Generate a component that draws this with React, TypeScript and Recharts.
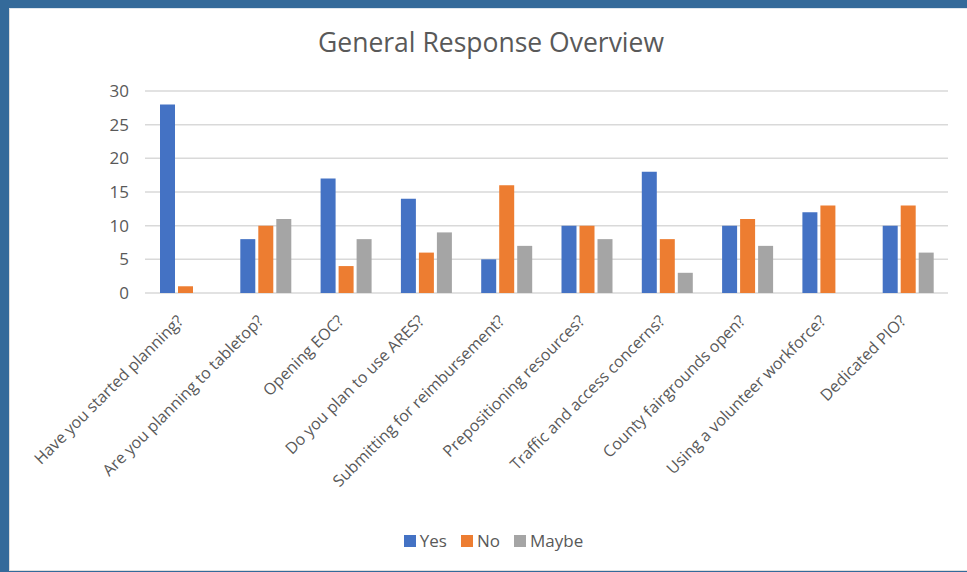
import React from 'react';
import { BarChart, Bar, XAxis, YAxis, CartesianGrid, Legend } from 'recharts';

const categories = [
  'Have you started planning?',
  'Are you planning to tabletop?',
  'Opening EOC?',
  'Do you plan to use ARES?',
  'Submitting for reimbursement?',
  'Prepositioning resources?',
  'Traffic and access concerns?',
  'County fairgrounds open?',
  'Using a volunteer workforce?',
  'Dedicated PIO?',
];
const yesValues = [28, 8, 17, 14, 5, 10, 18, 10, 12, 10];
const noValues = [1, 10, 4, 6, 16, 10, 8, 11, 13, 13];
const maybeValues = [0, 11, 8, 9, 7, 8, 3, 7, 0, 6];
const yTicks = [0, 5, 10, 15, 20, 25, 30];
const seriesNames = ['Yes', 'No', 'Maybe'];
const seriesColors = ['#4472C4', '#ED7D31', '#A5A5A5'];

const data = categories.map((name, i) => ({
  name,
  Yes: yesValues[i],
  No: noValues[i],
  Maybe: maybeValues[i],
}));

const FONT = '"Open Sans", "Liberation Sans", sans-serif';
const TEXT = '#595959';

const XTick = (props: any) => {
  const { x, y, payload } = props;
  return (
    <g transform={`translate(${x - 1},${y + 29})`}>
      <text transform="rotate(-45)" textAnchor="end" fill={TEXT} fontSize={16} fontFamily={FONT}>
        {payload.value}
      </text>
    </g>
  );
};

const LegendContent = () => (
  <div
    style={{
      display: 'flex',
      justifyContent: 'center',
      alignItems: 'center',
      fontFamily: FONT,
      fontSize: 17,
      color: TEXT,
      lineHeight: '23px',
    }}
  >
    {seriesNames.map((n, i) => (
      <div key={n} style={{ display: 'flex', alignItems: 'center', marginRight: i < 2 ? 14 : 0 }}>
        <span style={{ display: 'inline-block', width: 12, height: 12, background: seriesColors[i], marginRight: 4 }} />
        <span>{n}</span>
      </div>
    ))}
  </div>
);

export default function App() {
  return (
    <div style={{ position: 'absolute', left: 0, top: 0, width: 967, height: 572, background: '#346A9A', overflow: 'hidden' }}>
      <div
        style={{
          position: 'absolute',
          left: 9,
          top: 8,
          width: 958,
          height: 563,
          background: '#FFFFFF',
          borderTop: '1px solid #DDE6EE',
          borderLeft: '1px solid #DDDDDD',
          borderBottom: '1px solid #DDDDDD',
          boxSizing: 'border-box',
        }}
      />
      <div
        style={{
          position: 'absolute',
          left: 0,
          top: 25,
          width: 982,
          textAlign: 'center',
          fontFamily: FONT,
          fontSize: 26.5,
          lineHeight: '34px',
          color: TEXT,
        }}
      >
        General Response Overview
      </div>
      <div style={{ position: 'absolute', left: 0, top: 0 }}>
        <BarChart
          width={967}
          height={572}
          data={data}
          margin={{ top: 91, right: 19, left: 0, bottom: 79 }}
          barSize={15}
          barGap={3}
        >
          <CartesianGrid vertical={false} stroke="#D9D9D9" strokeWidth={1.5} />
          <XAxis
            dataKey="name"
            height={200}
            axisLine={false}
            tickLine={false}
            tickSize={0}
            tickMargin={0}
            interval={0}
            tick={<XTick />}
          />
          <YAxis
            width={145}
            domain={[0, 30]}
            ticks={yTicks}
            axisLine={false}
            tickLine={false}
            tickSize={0}
            tickMargin={16}
            tick={{ fill: TEXT, fontSize: 17, fontFamily: FONT }}
          />
          <Legend
            layout="horizontal"
            verticalAlign="middle"
            align="center"
            content={<LegendContent />}
            wrapperStyle={{ top: 529, left: 10, width: 967 }}
          />
          {seriesNames.map((n, i) => (
            <Bar key={n} dataKey={n} fill={seriesColors[i]} isAnimationActive={false} />
          ))}
        </BarChart>
      </div>
    </div>
  );
}
